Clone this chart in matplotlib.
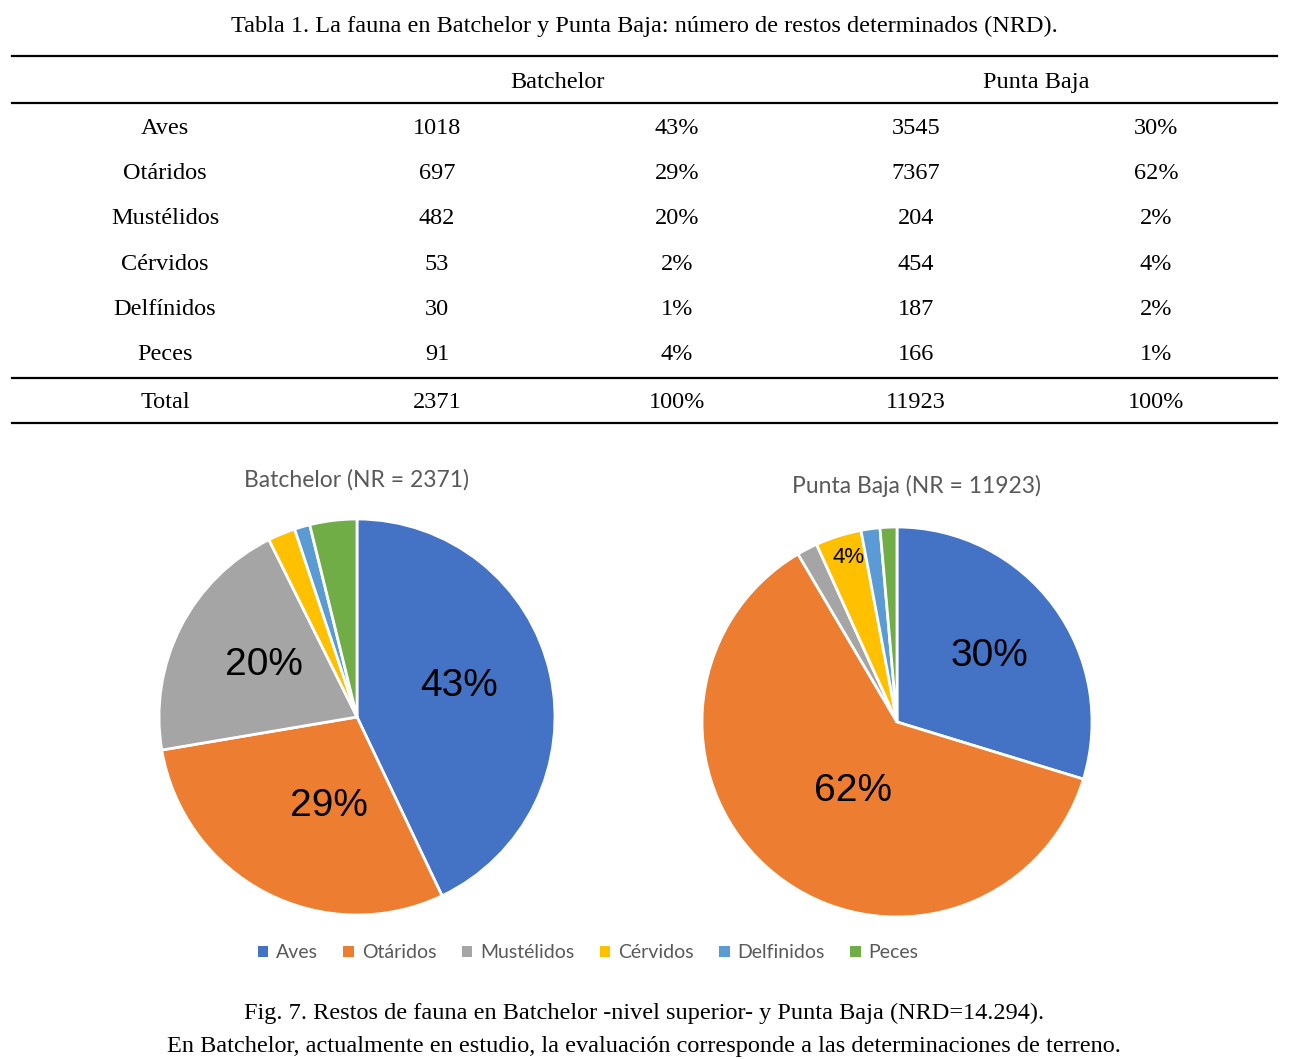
import matplotlib
matplotlib.use("Agg")
import matplotlib.pyplot as plt
from matplotlib.lines import Line2D
from matplotlib.patches import Patch
import numpy as np

# ---- data ----
categories = ["Aves", "Otáridos", "Mustélidos", "Cérvidos", "Delfínidos", "Peces"]
legend_labels = ["Aves", "Otáridos", "Mustélidos", "Cérvidos", "Delfinidos", "Peces"]
batchelor = [1018, 697, 482, 53, 30, 91]
punta_baja = [3545, 7367, 204, 454, 187, 166]
site_names = ["Batchelor", "Punta Baja"]

colors = ["#4472C4", "#ED7D31", "#A5A5A5", "#FFC000", "#5B9BD5", "#70AD47"]

W, H = 1289, 1059
fig = plt.figure(figsize=(W / 100, H / 100), dpi=100)
fig.patch.set_facecolor("white")

def fx(x):
    return x / W

def fy(y):
    return 1 - y / H

serif = ["Liberation Serif", "DejaVu Serif"]
tfs = 17.5

def hline(y, x0=12, x1=1277, lw=1.6):
    fig.add_artist(Line2D([fx(x0), fx(x1)], [fy(y), fy(y)], color="black", lw=lw,
                          transform=fig.transFigure))

def ttext(x, y, s):
    fig.text(fx(x), fy(y + 1.5), s, ha="center", va="center", family=serif, fontsize=tfs)

# ---- table ----
ttext(644, 25, "Tabla 1. La fauna en Batchelor y Punta Baja: número de restos determinados (NRD).")
hline(56)
ttext(557, 81, site_names[0])
ttext(1036, 81, site_names[1])
hline(103)

col_x = [165, 437, 677, 916, 1156]
row_y0, row_dy = 127, 45.2
tb = sum(batchelor)
tp = sum(punta_baja)
for i, cat in enumerate(categories):
    y = row_y0 + i * row_dy
    vals = [cat, str(batchelor[i]), f"{round(100 * batchelor[i] / tb)}%",
            str(punta_baja[i]), f"{round(100 * punta_baja[i] / tp)}%"]
    for x, v in zip(col_x, vals):
        ttext(x, y, v)
hline(378)
for x, v in zip(col_x, ["Total", str(tb), "100%", str(tp), "100%"]):
    ttext(x, 401, v)
hline(423)

# ---- pies ----
sans = ["Liberation Sans", "DejaVu Sans"]
title_font = ["Lato", "DejaVu Sans"]

pie_specs = [
    dict(vals=batchelor, cx=357, cy=717, r=198, title=f"{site_names[0]} (NR = {tb})", ty=480, tx=357,
         dists=[0.54, 0.47, 0.54, None, None, None], dang=[4, 10, -2, 0, 0, 0],
         sizes=[28, 28, 28, 16, 16, 16]),
    dict(vals=punta_baja, cx=897, cy=722, r=195, title=f"{site_names[1]} (NR = {tp})", ty=486, tx=917,
         dists=[0.58, 0.42, None, 0.88, None, None], dang=[-1, 6, 0, -1, 0, 0],
         sizes=[28, 28, 28, 16, 16, 16]),
]

for spec in pie_specs:
    r = spec["r"]
    ax = fig.add_axes([fx(spec["cx"] - r), fy(spec["cy"] + r), 2 * r / W, 2 * r / H])
    wedges, texts, autotexts = ax.pie(
        spec["vals"], colors=colors, startangle=90, counterclock=False,
        autopct=lambda p: f"{p:.0f}%",
        wedgeprops=dict(edgecolor="white", linewidth=2),
        textprops=dict(family=sans, color="black"))
    for w, t, d, da, s in zip(wedges, autotexts, spec["dists"], spec["dang"], spec["sizes"]):
        if d is None:
            t.set_visible(False)
            continue
        ang = np.deg2rad((w.theta1 + w.theta2) / 2 + da)
        t.set_position((d * np.cos(ang), d * np.sin(ang)))
        t.set_fontsize(s)
    ax.set_xlim(-1.0, 1.0)
    ax.set_ylim(-1.0, 1.0)
    ax.set_aspect("equal")
    ax.axis("off")
    fig.text(fx(spec["tx"]), fy(spec["ty"]), spec["title"], ha="center", va="center",
             family=title_font, fontsize=16.5, color="#595959")

# ---- legend ----
handles = [Patch(facecolor=c, edgecolor="none") for c in colors]
leg = fig.legend(handles, legend_labels, loc="center", bbox_to_anchor=(fx(588), fy(953)),
                 ncol=6, frameon=False, handlelength=0.55, handleheight=0.55,
                 handletextpad=0.4, columnspacing=1.3,
                 prop=dict(family=title_font, size=14))
for t in leg.get_texts():
    t.set_color("#595959")

# ---- caption ----
ttext(644, 1012, "Fig. 7. Restos de fauna en Batchelor -nivel superior- y Punta Baja (NRD=14.294).")
ttext(644, 1045, "En Batchelor, actualmente en estudio, la evaluación corresponde a las determinaciones de terreno.")

fig.savefig("out.png", dpi=100, facecolor="white")
